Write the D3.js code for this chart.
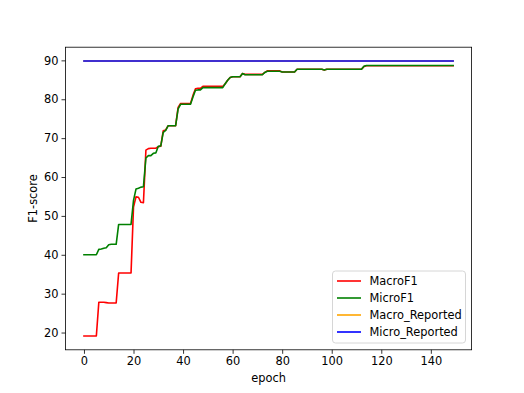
<!DOCTYPE html>
<html>
<head>
<meta charset="utf-8">
<script src="https://cdn.jsdelivr.net/npm/d3@7"></script>
<style>
    body { margin: 0; background: #fff; }
    svg { display: block; font-family: "DejaVu Sans", sans-serif; }
</style>
</head>
<body>
<svg id="chart" width="524" height="393"></svg>
<script>
//*************************************************
// Data
//*************************************************
var seriesNames = ['MacroF1', 'MicroF1', 'Macro_Reported', 'Micro_Reported'];
var seriesColors = ['#ff0000', '#008000', '#ffa500', '#0000ff'];

var macroF1 = [
    19.1, 19.1, 19.1, 19.1, 19.1, 19.1,
    27.8, 27.8, 27.8, 27.7, 27.6, 27.6, 27.6, 27.6,
    35.3, 35.3, 35.3, 35.3, 35.3, 35.3,
    52.3, 54.9, 54.8, 53.5, 53.4,
    66.9, 67.3, 67.4, 67.4, 67.4, 67.8, 67.9,
    71.9, 72.1,
    73.2, 73.2, 73.2, 73.2,
    77.9, 78.9,
    78.9, 78.9, 78.9, 78.9,
    81.0, 82.7, 82.8, 82.8,
    83.3, 83.3, 83.3, 83.3, 83.3, 83.3, 83.3, 83.3, 83.3,
    84.0, 84.9, 85.6, 85.8, 85.8, 85.8, 85.8,
    86.6,
    86.4, 86.4, 86.4, 86.4, 86.4, 86.4, 86.4, 86.4,
    86.9,
    87.3, 87.3, 87.3, 87.3, 87.3, 87.3,
    87.0, 87.0, 87.0, 87.0, 87.0, 87.0,
    87.7, 87.7, 87.7, 87.7, 87.7, 87.7, 87.7, 87.7, 87.7, 87.7, 87.7,
    87.5,
    87.7, 87.7, 87.7, 87.7, 87.7, 87.7, 87.7, 87.7, 87.7, 87.7, 87.7, 87.7, 87.7, 87.7, 87.7,
    88.4,
    88.6, 88.6, 88.6, 88.6, 88.6, 88.6, 88.6, 88.6, 88.6, 88.6, 88.6, 88.6,
    88.6, 88.6, 88.6, 88.6, 88.6, 88.6, 88.6, 88.6, 88.6, 88.6, 88.6, 88.6,
    88.6, 88.6, 88.6, 88.6, 88.6, 88.6, 88.6, 88.6, 88.6, 88.6, 88.6, 88.6
];

var microF1 = [
    40.0, 40.0, 40.0, 40.0, 40.0, 40.0,
    41.4, 41.5, 41.7, 41.8, 42.6, 42.7, 42.7, 42.7,
    47.8, 47.8, 47.8, 47.8, 47.8, 47.8,
    54.0, 56.9, 57.1, 57.4, 57.5,
    64.9, 65.5, 65.5, 66.1, 66.2, 67.9, 68.0,
    71.5, 72.0,
    73.2, 73.2, 73.2, 73.2,
    77.5, 78.7,
    78.7, 78.7, 78.7, 78.7,
    80.6, 82.3, 82.4, 82.4,
    83.0, 83.0, 83.0, 83.0, 83.0, 83.0, 83.0, 83.0, 83.0,
    84.0, 84.9, 85.6, 85.8, 85.8, 85.8, 85.8,
    86.6,
    86.3, 86.3, 86.3, 86.3, 86.3, 86.3, 86.3, 86.3,
    86.9,
    87.2, 87.2, 87.2, 87.2, 87.2, 87.2,
    87.0, 87.0, 87.0, 87.0, 87.0, 87.0,
    87.7, 87.7, 87.7, 87.7, 87.7, 87.7, 87.7, 87.7, 87.7, 87.7, 87.7,
    87.5,
    87.7, 87.7, 87.7, 87.7, 87.7, 87.7, 87.7, 87.7, 87.7, 87.7, 87.7, 87.7, 87.7, 87.7, 87.7,
    88.5,
    88.7, 88.7, 88.7, 88.7, 88.7, 88.7, 88.7, 88.7, 88.7, 88.7, 88.7, 88.7,
    88.7, 88.7, 88.7, 88.7, 88.7, 88.7, 88.7, 88.7, 88.7, 88.7, 88.7, 88.7,
    88.7, 88.7, 88.7, 88.7, 88.7, 88.7, 88.7, 88.7, 88.7, 88.7, 88.7, 88.7
];

// reported scores are flat reference lines
var macroReported = 89.85;
var microReported = 89.85;

var xTicks = [0, 20, 40, 60, 80, 100, 120, 140];
var yTicks = [20, 30, 40, 50, 60, 70, 80, 90];

//*************************************************
// Layout
//*************************************************
var _width = 524;
var _height = 393;
var _padding = { left: 65.5, right: 52.4, top: 47.2, bottom: 43.2 };
var _fontSize = 11.4;

var epochs = macroF1.map(function (d, i){ return i; });

var allSeries = [
    macroF1,
    microF1,
    epochs.map(function (){ return macroReported; }),
    epochs.map(function (){ return microReported; })
];

var svg = d3.select('#chart');

var plotLeft = _padding.left;
var plotRight = _width - _padding.right;
var plotTop = _padding.top;
var plotBottom = _height - _padding.bottom;

//----------------------------------------------------------------------------------
// Scales (5% margins like matplotlib autoscale)
//----------------------------------------------------------------------------------
var xExt = d3.extent(epochs);
var xPad = (xExt[1] - xExt[0]) * 0.05;
var x = d3.scaleLinear()
    .domain([xExt[0] - xPad, xExt[1] + xPad])
    .range([plotLeft, plotRight]);

var yExt = d3.extent(d3.merge(allSeries));
var yPad = (yExt[1] - yExt[0]) * 0.05;
var y = d3.scaleLinear()
    .domain([yExt[0] - yPad, yExt[1] + yPad])
    .range([plotBottom, plotTop]);

//----------------------------------------------------------------------------------
// Lines
//----------------------------------------------------------------------------------
var line = d3.line()
    .x(function (d, i){ return x(epochs[i]); })
    .y(function (d){ return y(d); });

svg.append('g')
    .attr('class', 'lines')
    .selectAll('path')
    .data(allSeries)
    .enter().append('path')
    .attr('d', line)
    .attr('fill', 'none')
    .attr('stroke', function (d, i){ return seriesColors[i]; })
    .attr('stroke-width', 1.6)
    .attr('stroke-linejoin', 'round')
    .attr('stroke-linecap', 'square');

//----------------------------------------------------------------------------------
// Axes
//----------------------------------------------------------------------------------
var xAxis = svg.append('g')
    .attr('transform', 'translate(0,' + plotBottom + ')')
    .call(d3.axisBottom(x).tickValues(xTicks).tickSize(4).tickPadding(3).tickSizeOuter(0));

var yAxis = svg.append('g')
    .attr('transform', 'translate(' + plotLeft + ',0)')
    .call(d3.axisLeft(y).tickValues(yTicks).tickSize(4).tickPadding(3).tickSizeOuter(0));

[xAxis, yAxis].forEach(function (ax){
    ax.select('.domain').remove();
    ax.selectAll('line').attr('stroke', '#000').attr('stroke-width', 0.8);
    ax.selectAll('text')
        .attr('fill', '#000')
        .style('font-size', _fontSize + 'px')
        .style('font-family', '"DejaVu Sans", sans-serif');
});

// frame
svg.append('rect')
    .attr('x', plotLeft)
    .attr('y', plotTop)
    .attr('width', plotRight - plotLeft)
    .attr('height', plotBottom - plotTop)
    .attr('fill', 'none')
    .attr('stroke', '#000')
    .attr('stroke-width', 0.8);

// axis labels
svg.append('text')
    .attr('x', (plotLeft + plotRight) / 2)
    .attr('y', 382)
    .attr('text-anchor', 'middle')
    .style('font-size', _fontSize + 'px')
    .text('epoch');

svg.append('text')
    .attr('transform', 'translate(37,' + ((plotTop + plotBottom) / 2) + ') rotate(-90)')
    .attr('text-anchor', 'middle')
    .style('font-size', _fontSize + 'px')
    .text('F1-score');

//----------------------------------------------------------------------------------
// Legend
//----------------------------------------------------------------------------------
var legend = svg.append('g')
    .attr('transform', 'translate(332.5,271)');

legend.append('rect')
    .attr('width', 133)
    .attr('height', 72)
    .attr('rx', 3)
    .attr('fill', '#fff')
    .attr('fill-opacity', 0.8)
    .attr('stroke', '#ccc')
    .attr('stroke-width', 0.8);

var items = legend.selectAll('.item')
    .data(seriesNames)
    .enter().append('g')
    .attr('class', 'item')
    .attr('transform', function (d, i){ return 'translate(0,' + (10 + i * 17) + ')'; });

items.append('line')
    .attr('x1', 4.5)
    .attr('x2', 28.5)
    .attr('stroke', function (d, i){ return seriesColors[i]; })
    .attr('stroke-width', 1.6);

items.append('text')
    .attr('x', 37)
    .attr('dy', '0.35em')
    .style('font-size', _fontSize + 'px')
    .text(function (d){ return d; });
</script>
</body>
</html>
